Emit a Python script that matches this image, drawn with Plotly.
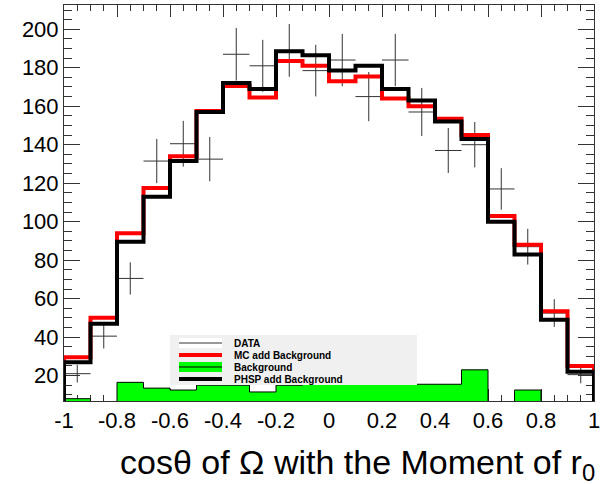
import plotly.graph_objects as go

# ---------------- data ----------------
bin_edges = [-1.0, -0.9, -0.8, -0.7, -0.6, -0.5, -0.4, -0.3, -0.2, -0.1, 0.0,
             0.1, 0.2, 0.3, 0.4, 0.5, 0.6, 0.7, 0.8, 0.9, 1.0]
bin_centers = [-0.95, -0.85, -0.75, -0.65, -0.55, -0.45, -0.35, -0.25, -0.15, -0.05,
               0.05, 0.15, 0.25, 0.35, 0.45, 0.55, 0.65, 0.75, 0.85, 0.95]

data_counts = [21, 40.5, 70.5, 131.5, 140.5, 132.5, 187, 181, 189, 178.5,
               184, 165, 184, 157, 137, 140, 117, 87, 52.5, 20.5]
data_errors = [4.6, 6.4, 8.4, 11.5, 11.9, 11.5, 13.7, 13.5, 13.7, 13.4,
               13.6, 12.8, 13.6, 12.5, 11.7, 11.8, 10.8, 9.3, 7.2, 4.5]

mc_add_bkg = [29.5, 50, 94, 117.5, 134, 157.5, 170.5, 164.5, 183.5, 181,
              173, 175.5, 164, 160, 153.5, 145, 103, 88, 53.5, 25]
phsp_add_bkg = [27, 47, 89.5, 113, 131.5, 157, 172, 169, 188.5, 186.5,
                178.5, 181, 169, 163, 152, 143, 100, 83, 49, 22]
background = [8, 0, 16.5, 13.5, 12.5, 15, 15, 11.5, 15, 15.5,
              15.5, 15.5, 15.5, 15.5, 15.5, 23, 0, 12.5, 0, 0]

x_tick_vals = [-1, -0.8, -0.6, -0.4, -0.2, 0, 0.2, 0.4, 0.6, 0.8, 1]
x_tick_text = ["-1", "-0.8", "-0.6", "-0.4", "-0.2", "0", "0.2", "0.4", "0.6", "0.8", "1"]

legend_labels = ["DATA", "MC add Background", "Background", "PHSP add Background"]
x_title = "cos\u03b8 of \u03a9 with the Moment of r<sub>0</sub>"

# ---------------- helpers ----------------
FONT = "Liberation Sans, Arial, Helvetica, sans-serif"
W, H = 604, 484
ML, MR, MT, MB = 64, 10, 5, 83
PW, PH = W - ML - MR, H - MT - MB


def step_xy(edges, vals):
    xs = [edges[0]] + list(edges[:-1]) + [edges[-1], edges[-1]]
    ys = [0] + list(vals) + [vals[-1], 0]
    return xs, ys


def px(x):
    return (x - ML) / PW


def py(y):
    return (H - MB - y) / PH


fig = go.Figure()

# data crosses
fig.add_trace(go.Scatter(
    x=bin_centers, y=data_counts, mode="markers",
    marker=dict(size=1, color="rgba(0,0,0,0)"),
    error_x=dict(type="constant", value=0.05, color="#333333", thickness=1, width=0),
    error_y=dict(type="data", array=data_errors, color="#333333", thickness=1, width=0),
    showlegend=False, hoverinfo="skip"))

# background (green filled)
bx, by = step_xy(bin_edges, background)
fig.add_trace(go.Scatter(
    x=bx, y=by, mode="lines", line=dict(shape="hv", color="black", width=1),
    fill="tozeroy", fillcolor="#00ff00", showlegend=False, hoverinfo="skip"))

# MC add background (red)
rx, ry = step_xy(bin_edges, mc_add_bkg)
fig.add_trace(go.Scatter(
    x=rx, y=ry, mode="lines", line=dict(shape="hv", color="#ff0000", width=4),
    showlegend=False, hoverinfo="skip"))

# PHSP add background (black)
kx, ky = step_xy(bin_edges, phsp_add_bkg)
fig.add_trace(go.Scatter(
    x=kx, y=ky, mode="lines", line=dict(shape="hv", color="black", width=4),
    showlegend=False, hoverinfo="skip"))

# ---------------- legend (ROOT TLegend style) ----------------
shapes = []
annotations = []
shapes.append(dict(type="rect", xref="paper", yref="paper",
                   x0=px(170), x1=px(417), y0=py(385), y1=py(335),
                   fillcolor="#f0f0f0", line=dict(width=0), layer="above"))
rows = [343, 355, 367, 379]
lx0, lx1 = px(179), px(222)
# DATA
shapes.append(dict(type="rect", xref="paper", yref="paper", x0=lx0, x1=lx1,
                   y0=py(rows[0] + 5), y1=py(rows[0] - 5), fillcolor="white",
                   line=dict(width=0), layer="above"))
shapes.append(dict(type="line", xref="paper", yref="paper", x0=lx0, x1=lx1,
                   y0=py(rows[0]), y1=py(rows[0]), line=dict(color="#777777", width=1.5),
                   layer="above"))
# MC
shapes.append(dict(type="line", xref="paper", yref="paper", x0=lx0, x1=lx1,
                   y0=py(rows[1]), y1=py(rows[1]), line=dict(color="#ff0000", width=4),
                   layer="above"))
# Background
shapes.append(dict(type="rect", xref="paper", yref="paper", x0=lx0, x1=lx1,
                   y0=py(rows[2] + 5), y1=py(rows[2] - 5), fillcolor="#00ff00",
                   line=dict(width=0), layer="above"))
shapes.append(dict(type="line", xref="paper", yref="paper", x0=lx0, x1=lx1,
                   y0=py(rows[2]), y1=py(rows[2]), line=dict(color="black", width=1),
                   layer="above"))
# PHSP
shapes.append(dict(type="line", xref="paper", yref="paper", x0=lx0, x1=lx1,
                   y0=py(rows[3]), y1=py(rows[3]), line=dict(color="black", width=4),
                   layer="above"))
for lab, r in zip(legend_labels, rows):
    annotations.append(dict(xref="paper", yref="paper", x=px(232), y=py(r),
                            xanchor="left", yanchor="middle", showarrow=False,
                            text="<b>" + lab + "</b>",
                            font=dict(family=FONT, size=10, color="black")))

# axis title (ROOT style, right aligned)
annotations.append(dict(xref="paper", yref="paper", x=px(597), y=py(464),
                        xanchor="right", yanchor="middle", showarrow=False,
                        text=x_title, font=dict(family=FONT, size=34, color="black")))

axis_color = "#333333"
fig.update_layout(
    width=W, height=H,
    margin=dict(l=ML, r=MR, t=MT, b=MB, autoexpand=False),
    paper_bgcolor="white", plot_bgcolor="white",
    font=dict(family=FONT, color="black"),
    showlegend=False,
    shapes=shapes, annotations=annotations,
    xaxis=dict(range=[-1, 1], tickmode="array", tickvals=x_tick_vals, ticktext=x_tick_text,
               ticks="inside", ticklen=12, tickwidth=1, tickcolor=axis_color,
               showline=True, linecolor=axis_color, linewidth=1, mirror="ticks",
               showgrid=False, zeroline=False, layer="below traces", automargin=False,
               tickfont=dict(family=FONT, size=22, color="black"),
               minor=dict(tickmode="linear", tick0=-1, dtick=0.05, ticks="inside",
                          ticklen=6, tickcolor=axis_color, showgrid=False)),
    yaxis=dict(range=[6.8, 212.6], tickmode="linear", tick0=0, dtick=20,
               ticks="inside", ticklen=16, tickwidth=1, tickcolor=axis_color,
               showline=True, linecolor=axis_color, linewidth=1, mirror="ticks",
               showgrid=False, zeroline=False, layer="below traces", automargin=False,
               tickfont=dict(family=FONT, size=22, color="black"),
               minor=dict(tickmode="linear", tick0=0, dtick=5, ticks="inside",
                          ticklen=8, tickcolor=axis_color, showgrid=False)),
)

fig.write_html("out.html",
               config={"displayModeBar": False},
               post_script="document.body.style.margin='0px';document.body.style.padding='0px';")
